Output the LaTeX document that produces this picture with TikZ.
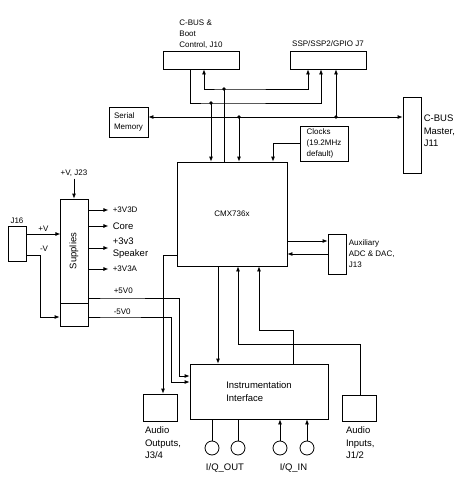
\documentclass[tikz,border=0pt]{standalone}
\usepackage{fontspec}
\setmainfont{Liberation Sans}
\usetikzlibrary{arrows.meta,calc}

\tikzset{
  box/.style={draw, line width=0.8pt, inner sep=1pt, align=left},
  lbl/.style={inner sep=2pt, align=left},
  bigl/.style={font=\fontsize{9.5}{12.5}\selectfont},
  outl/.style={lbl, right, xshift=2pt},
  arr/.style={-{Latex[length=5pt,width=4pt]}},
  arrtwo/.style={{Latex[length=5pt,width=4pt]}-{Latex[length=5pt,width=4pt]}},
  jack/.style={draw, circle, line width=0.8pt, minimum size=14pt, inner sep=0pt},
}

\begin{document}
\begin{tikzpicture}[x=1pt, y=-1pt, line width=0.8pt, font=\fontsize{8}{11}\selectfont]
\useasboundingbox (0,0) rectangle (459,485);

% Drawing box J10
\node[box, minimum width=76pt, minimum height=18pt] (j10) at (201,60) {};
\node[lbl, above] at (j10.north) {C-BUS \&\\Boot\\Control, J10};

% Drawing box J7
\node[box, minimum width=76pt, minimum height=18pt] (j7) at (328,60) {};
\node[lbl, above=2pt] at (j7.north) {SSP/SSP2/GPIO J7};

% Drawing box serial memory
\node[box, minimum width=39pt, minimum height=30pt] (sermem) at (128.5,122) {Serial\\Memory};

% Drawing box C-BUS master
\node[box, minimum width=18pt, minimum height=76pt] (cbusm) at (412,135) {};
\node[lbl, bigl, right, yshift=4pt] at (cbusm.east) {C-BUS\\Master,\\J11};

% Drawing box clocks
\node[box, minimum width=48pt, minimum height=35pt] (clocks) at (324,143.5) {Clocks\\(19.2MHz\\default)};

% Drawing box CMX736x
\node[box, minimum width=110pt, minimum height=104pt] (cmx) at (232,214) {CMX736x};

% Drawing box auxiliary
\node[box, minimum width=18pt, minimum height=40pt] (aux) at (337,254) {};
\node[lbl, right] at (aux.east) {Auxiliary\\ADC \& DAC,\\J13};

% Drawing box supplies
\node[box, minimum width=28pt, minimum height=104pt] (supplies) at (74,251) {};
\node[box, minimum width=28pt, minimum height=23pt] (suplow) at (74,314.5) {};
\node[lbl, bigl, rotate=90] at (supplies) {Supplies};
\node[lbl] (j23) at (74,173) {+V, J23};

% Drawing box J16
\node[box, minimum width=18pt, minimum height=35pt] (j16) at (17,243.5) {};
\node[lbl, above] at (j16.north) {J16};

% Drawing box instrumentation interface
\node[box, bigl, minimum width=138pt, minimum height=55pt] (instr) at (259,391.5) {Instrumentation\\Interface};

% Drawing audio boxes
\node[box, minimum width=34pt, minimum height=27pt] (audout) at (160,407.5) {};
\node[lbl, bigl, below right=3pt, xshift=-3pt] at (audout.south west) {Audio\\Outputs,\\J3/4};
\node[box, minimum width=34pt, minimum height=26pt] (audin) at (359,408) {};
\node[lbl, bigl, below right=3pt, xshift=-1pt] at (audin.south west) {Audio\\Inputs,\\J1/2};

% Drawing I/Q jacks
\node[jack] (qo1) at (212,448) {};
\node[jack] (qo2) at (238,448) {};
\node[jack] (qi1) at (280,448) {};
\node[jack] (qi2) at (307,448) {};
\node[lbl, bigl, below=6pt] at ($(qo1.south)!0.5!(qo2.south)$) {I/Q\_OUT};
\node[lbl, bigl, below=6pt] at ($(qi1.south)!0.5!(qi2.south)$) {I/Q\_IN};

% Marking bus junctions
\coordinate (dA) at (224,89);
\coordinate (dB) at (211,103);
\coordinate (dC) at (239,117);
\coordinate (dD) at (336,117);

% Drawing lines J10 and J7
\draw[arr] ([xshift=-11pt]j10.south) |- (dB) -| ([xshift=-7pt]j7.south);
\draw[arrtwo] ([xshift=3pt]j10.south) |- (dA) -| ([xshift=-20pt]j7.south);
\draw (dA) -- (dA |- cmx.north);
\draw[arr] (dB) -- (dB |- cmx.north);

% Drawing C-BUS
\draw[arrtwo] (dC -| sermem.east) -- (dC -| cbusm.west);
\draw[arr] (dC) -- (dC |- cmx.north);
\draw[arr] (dD) -- (dD |- j7.south);
\foreach \d in {dA,dB,dC,dD}
  \fill (\d) circle (1.8pt);

% Drawing clock line
\draw[arr] (clocks.west) -| ([xshift=41pt]cmx.north);

% Drawing auxiliary lines
\coordinate (auxin) at ([yshift=13pt]aux.west);
\draw[arr] (auxin -| cmx.east) -- (auxin);
\draw[arr] (aux.west) -- (aux.west -| cmx.east);

% Drawing supply lines
\draw[arr] (j23) -- (supplies.north);
\draw[arr] ([yshift=9.5pt]j16.east) -- ++(34,0) node[lbl, midway, above] {+V};
\draw[arr] ([yshift=-11.5pt]j16.east) -| ([xshift=-19pt,yshift=-2.5pt]suplow.west) -- ([yshift=-2.5pt]suplow.west);
\node[lbl] at (44,249) {-V};
\draw[arr] ([yshift=41pt]supplies.east) -- ++(20,0) node[outl] {+3V3D};
\draw[arr] ([yshift=25pt]supplies.east) -- ++(20,0) node[outl, bigl] {Core};
\draw[arr] ([yshift=3pt]supplies.east) -- ++(20,0) node[outl, bigl] {+3v3\\Speaker};
\draw[arr] ([yshift=-18pt]supplies.east) -- ++(20,0) node[outl] {+3V3A};
\draw[arr] ([yshift=-47pt]supplies.east) -- ++(23,0) node[lbl, above right, yshift=2pt] {+5V0}
  -| ([xshift=-10pt,yshift=15.5pt]instr.west) -- ([yshift=15.5pt]instr.west);
\draw[arr] ([yshift=-2.5pt]suplow.east) -- ++(23,0) node[lbl, above right] {-5V0}
  -| ([xshift=-18pt,yshift=9.5pt]instr.west) -- ([yshift=9.5pt]instr.west);

% Drawing audio and instrumentation lines
\draw[arr] ([yshift=-41pt]cmx.west) -| ([xshift=3pt]audout.north);
\draw[arr] ([xshift=-14pt]cmx.south) -- ([xshift=-41pt]instr.north);
\draw[arr] ([xshift=1pt]audin.north) -- ++(0,-50) -| ([xshift=6pt]cmx.south);
\draw[arr] ([xshift=34pt]instr.north) -- ++(0,-33) -| ([xshift=27pt]cmx.south);

% Drawing I/Q lines
\draw (qo1 |- instr.south) -- (qo1);
\draw (qo2 |- instr.south) -- (qo2);
\draw[arr] (qi1) -- (qi1 |- instr.south);
\draw[arr] (qi2) -- (qi2 |- instr.south);
\end{tikzpicture}
\end{document}
